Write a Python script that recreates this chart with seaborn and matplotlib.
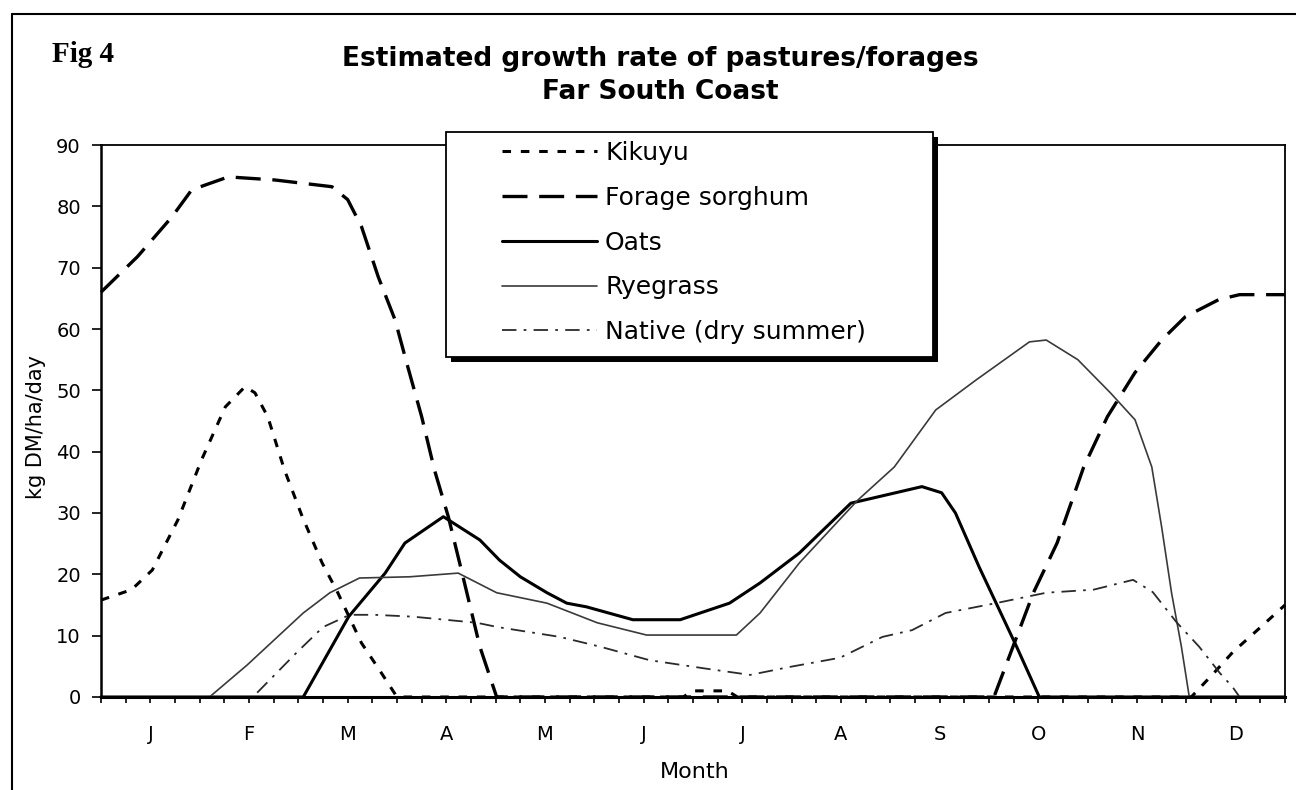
import numpy as np
import pandas as pd
import matplotlib
matplotlib.use("Agg")
import matplotlib.pyplot as plt
from matplotlib.lines import Line2D
from matplotlib.patches import Rectangle
import seaborn as sns

# ---------------- data (month position 0..12, kg DM/ha/day) ----------------
month_labels = ["J", "F", "M", "A", "M", "J", "J", "A", "S", "O", "N", "D"]

kikuyu_month = [0, 0.31, 0.52, 0.78, 1.02, 1.26, 1.46, 1.56, 1.69, 1.86, 2.04, 2.24,
                2.40, 2.64, 2.81, 3.00, 5.90, 6.00, 6.35, 6.45, 11.05, 11.29, 11.47, 11.74, 12.0]
kikuyu_rate = [15.8, 17.5, 20.7, 28.9, 38.7, 47.3, 50.6, 49.6, 45.7, 37.0, 29.4, 21.9,
               17.0, 8.8, 4.7, 0.0, 0.0, 1.0, 1.0, 0.0, 0.0, 4.1, 7.3, 11.2, 15.0]

sorghum_month = [0, 0.37, 0.72, 0.92, 1.29, 1.76, 2.34, 2.50, 2.64, 2.81, 2.98, 3.11, 3.25,
                 3.38, 3.52, 3.66, 3.84, 4.01, 9.05, 9.45, 9.69, 9.96, 10.20, 10.48, 10.75,
                 10.99, 11.33, 11.54, 12.0]
sorghum_rate = [66.0, 71.8, 78.3, 82.7, 84.8, 84.3, 83.2, 81.1, 76.7, 68.5, 61.5, 53.8, 45.7,
                37.0, 29.4, 20.2, 8.2, 0.0, 0.0, 17.0, 25.1, 37.5, 45.7, 52.9, 58.2,
                62.0, 64.8, 65.6, 65.6]

oats_month = [0, 2.05, 2.51, 2.88, 3.08, 3.47, 3.84, 4.04, 4.25, 4.52, 4.72, 4.92, 5.39, 5.87,
              6.37, 6.68, 7.08, 7.60, 8.32, 8.52, 8.66, 8.90, 9.28, 9.51, 12.0]
oats_rate = [0, 0, 13.1, 20.2, 25.1, 29.4, 25.6, 22.3, 19.6, 17.0, 15.3, 14.7, 12.6, 12.6,
             15.3, 18.6, 23.5, 31.6, 34.3, 33.3, 30.0, 21.2, 8.2, 0, 0]

ryegrass_month = [0, 1.10, 1.48, 2.05, 2.32, 2.62, 3.13, 3.62, 4.01, 4.52, 5.03, 5.53, 6.44,
                  6.68, 7.08, 7.67, 8.04, 8.46, 8.87, 9.41, 9.58, 9.90, 10.23, 10.48, 10.65,
                  10.75, 10.85, 10.95, 11.03, 12.0]
ryegrass_rate = [0, 0, 5.2, 13.7, 17.0, 19.4, 19.6, 20.2, 17.0, 15.3, 12.1, 10.1, 10.1,
                 13.7, 21.9, 32.1, 37.5, 46.8, 51.7, 57.9, 58.2, 55.0, 49.6, 45.2, 37.5,
                 27.7, 17.0, 8.2, 0, 0]

native_month = [0, 1.54, 1.98, 2.25, 2.52, 2.77, 3.16, 3.81, 4.02, 4.65, 5.06, 5.56, 6.10,
                6.58, 6.98, 7.49, 7.92, 8.22, 8.56, 9.07, 9.58, 10.06, 10.46, 10.66, 10.90,
                11.13, 11.34, 11.47, 11.54, 12.0]
native_rate = [0, 0, 7.2, 11.4, 13.4, 13.4, 13.1, 12.1, 11.4, 9.8, 8.2, 6.0, 4.7,
               3.6, 4.9, 6.4, 9.8, 10.9, 13.7, 15.3, 17.0, 17.5, 19.1, 17.1, 12.2,
               8.2, 3.9, 1.6, 0, 0]

series = [
    ("Kikuyu", kikuyu_month, kikuyu_rate,
     dict(color="black", lw=2.2, ls=(0, (2.8, 3.2)))),
    ("Forage sorghum", sorghum_month, sorghum_rate,
     dict(color="black", lw=2.4, ls=(0, (7.5, 3.5)))),
    ("Oats", oats_month, oats_rate,
     dict(color="black", lw=2.2, ls="-")),
    ("Ryegrass", ryegrass_month, ryegrass_rate,
     dict(color="#3a3a3a", lw=1.2, ls="-")),
    ("Native (dry summer)", native_month, native_rate,
     dict(color="#2a2a2a", lw=1.3, ls=(0, (8, 4, 1.5, 4)))),
]

# ---------------- style ----------------
sns.set_style("white")
plt.rcParams["font.family"] = ["DejaVu Sans"]
plt.rcParams["text.color"] = "black"
plt.rcParams["axes.labelcolor"] = "black"
plt.rcParams["xtick.color"] = "black"
plt.rcParams["ytick.color"] = "black"

W, H = 1296, 790
fig = plt.figure(figsize=(W / 100, H / 100), dpi=100)
fig.patch.set_facecolor("white")

def fx(px):
    return px / W

def fy(py):
    return 1 - py / H

ax_l, ax_r, ax_t, ax_b = 101, 1285, 145, 697
ax = fig.add_axes([fx(ax_l), fy(ax_b), fx(ax_r - ax_l), (ax_b - ax_t) / H])

for name, xm, yv, st in series:
    df = pd.DataFrame({"month": xm, "rate": yv})
    sns.lineplot(data=df, x="month", y="rate", ax=ax, label=name, legend=False,
                 estimator=None, sort=False, color=st["color"], linewidth=st["lw"],
                 linestyle=st["ls"], clip_on=False)

ax.set_xlim(0, 12)
ax.set_ylim(0, 90)

# axes styling
for side, s in ax.spines.items():
    s.set_visible(True)
    s.set_color("black")
    s.set_linewidth(1.3)
ax.spines["left"].set_linewidth(1.8)
ax.spines["bottom"].set_linewidth(2.2)

ax.set_yticks(np.arange(0, 91, 10))
ax.tick_params(axis="y", direction="out", length=6.5, width=1.2, pad=8,
               labelsize=14, left=True, colors="black")

ax.set_xticks(np.arange(12) + 0.5)
ax.set_xticklabels(month_labels)
ax.set_xticks(np.arange(0, 12.01, 0.25), minor=True)
ax.xaxis.remove_overlapping_locs = False
ax.tick_params(axis="x", which="major", length=0, pad=20, labelsize=14, colors="black")
ax.tick_params(axis="x", which="minor", direction="out", length=4, width=1.2,
               bottom=True, color="black")
ax.set_xlabel("")
ax.set_ylabel("")

# axis titles
fig.text(fx(695), fy(772), "Month", ha="center", va="center", fontsize=16, color="black")
fig.text(fx(36), fy(427), "kg DM/ha/day", ha="center", va="center", rotation=90,
         fontsize=15, color="black")

# chart titles
fig.text(fx(660), fy(66), "Estimated growth rate of pastures/forages", ha="center",
         va="baseline", fontsize=19, fontweight="bold", color="black")
fig.text(fx(660), fy(99), "Far South Coast", ha="center", va="baseline",
         fontsize=19, fontweight="bold", color="black")
fig.text(fx(52), fy(62), "Fig 4", ha="left", va="baseline", fontsize=21,
         fontweight="bold", color="black", family=["Liberation Serif", "DejaVu Serif"])

# outer figure frame (left and top edges visible)
fig.add_artist(Line2D([fx(12), fx(12)], [0, fy(14)], transform=fig.transFigure,
                      color="black", lw=1.5))
fig.add_artist(Line2D([fx(12), 1], [fy(14), fy(14)], transform=fig.transFigure,
                      color="black", lw=1.5))

# legend box with shadow
bx0, bx1, by0, by1 = 446, 933, 132, 357
fig.add_artist(Rectangle((fx(bx0 + 5), fy(by1 + 5)), fx(bx1 - bx0), (by1 - by0) / H,
                         transform=fig.transFigure, facecolor="black",
                         edgecolor="none", zorder=3))
fig.add_artist(Rectangle((fx(bx0), fy(by1)), fx(bx1 - bx0), (by1 - by0) / H,
                         transform=fig.transFigure, facecolor="white",
                         edgecolor="black", lw=1.3, zorder=3.5))
handles, labels = ax.get_legend_handles_labels()
leg = fig.legend(handles, labels, loc="upper left",
                 bbox_to_anchor=(fx(502), fy(141)), frameon=False, fontsize=18,
                 handlelength=3.8, handletextpad=0.32, labelspacing=0.83,
                 borderpad=0, borderaxespad=0)
for t in leg.get_texts():
    t.set_color("black")
leg.set_zorder(6)

fig.savefig("out.png", dpi=100, facecolor="white")
